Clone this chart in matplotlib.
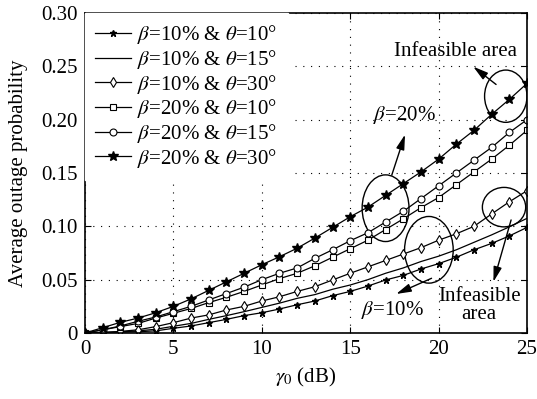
import matplotlib
matplotlib.use('Agg')
import matplotlib.pyplot as plt
from matplotlib.patches import Ellipse
import numpy as np

plt.rcParams['font.family'] = 'Liberation Serif'
plt.rcParams['mathtext.fontset'] = 'stix'

gamma0 = np.arange(0, 26)

# beta=10%
b10_t10 = [0, 0.0003, 0.0008, 0.0012, 0.002, 0.0044, 0.0066, 0.0097, 0.0128, 0.0163,
           0.019, 0.0225, 0.0265, 0.030, 0.035, 0.039, 0.044, 0.0497, 0.054, 0.060,
           0.065, 0.071, 0.078, 0.084, 0.091, 0.099]
b10_t15 = [0, 0.0005, 0.001, 0.002, 0.0035, 0.0063, 0.009, 0.0128, 0.0163, 0.020,
           0.024, 0.028, 0.0325, 0.036, 0.041, 0.045, 0.050, 0.056, 0.061, 0.067,
           0.072, 0.078, 0.085, 0.092, 0.0995, 0.1075]
b10_t30 = [0, 0.0005, 0.0015, 0.003, 0.006, 0.0097, 0.014, 0.017, 0.0216, 0.025,
           0.030, 0.034, 0.039, 0.0434, 0.0497, 0.056, 0.062, 0.068, 0.074, 0.080,
           0.087, 0.093, 0.100, 0.1116, 0.123, 0.1334]
# beta=20%
b20_t10 = [0, 0.003, 0.006, 0.009, 0.014, 0.0185, 0.023, 0.0285, 0.0335, 0.039,
           0.045, 0.051, 0.056, 0.063, 0.071, 0.079, 0.087, 0.097, 0.107, 0.1175,
           0.127, 0.139, 0.151, 0.163, 0.176, 0.190]
b20_t15 = [0, 0.003, 0.0066, 0.011, 0.015, 0.020, 0.025, 0.031, 0.037, 0.043,
           0.050, 0.056, 0.061, 0.070, 0.078, 0.0865, 0.094, 0.104, 0.114, 0.126,
           0.138, 0.150, 0.162, 0.174, 0.188, 0.200]
b20_t30 = [0, 0.005, 0.010, 0.014, 0.019, 0.025, 0.032, 0.040, 0.048, 0.056,
           0.064, 0.0715, 0.0795, 0.089, 0.099, 0.109, 0.118, 0.129, 0.140, 0.151,
           0.163, 0.177, 0.190, 0.205, 0.219, 0.234]

labels = [r'$\beta$=10% & $\theta$=10°', r'$\beta$=10% & $\theta$=15°',
          r'$\beta$=10% & $\theta$=30°', r'$\beta$=20% & $\theta$=10°',
          r'$\beta$=20% & $\theta$=15°', r'$\beta$=20% & $\theta$=30°']

fs = 15

fig = plt.figure(figsize=(5.37, 3.99), dpi=100)
ax = fig.add_axes([0.1583, 0.1654, 0.8231, 0.802])

lw = 0.9
ax.plot(gamma0, b10_t10, 'k-', marker='*', ms=5, lw=lw, label=labels[0])
ax.plot(gamma0, b10_t15, 'k-', lw=lw, label=labels[1])
ax.plot(gamma0, b10_t30, 'k-', marker='d', ms=5, mfc='white', mew=0.8, lw=lw, label=labels[2])
ax.plot(gamma0, b20_t10, 'k-', marker='s', ms=4, mfc='white', mew=0.8, lw=lw, label=labels[3])
ax.plot(gamma0, b20_t15, 'k-', marker='o', ms=5, mfc='white', mew=0.8, lw=lw, label=labels[4])
ax.plot(gamma0, b20_t30, 'k-', marker='*', ms=7, lw=lw, label=labels[5])

ax.set_xlim(0, 25)
ax.set_ylim(0, 0.30)
ax.set_xticks([0, 5, 10, 15, 20, 25])
ax.set_yticks([0, 0.05, 0.10, 0.15, 0.20, 0.25, 0.30])
ax.set_yticklabels(['0', '0.05', '0.10', '0.15', '0.20', '0.25', '0.30'])
ax.tick_params(direction='in', length=4, top=True, right=True, labelsize=fs, pad=5)
ax.grid(True, color='k', linestyle=(0, (1, 6)), linewidth=0.8)
for s in ax.spines.values():
    s.set_linewidth(1.2)

ax.set_xlabel(r'$\gamma_0$ (dB)', fontsize=fs, labelpad=5)
ax.set_ylabel('Average outage probability', fontsize=fs, labelpad=10)

leg = ax.legend(loc='upper left', fontsize=fs, frameon=True, fancybox=False,
                handlelength=1.7, handletextpad=0.3, labelspacing=0.08,
                borderaxespad=0.0, borderpad=0.5)
leg.get_frame().set_edgecolor('white')
leg.get_frame().set_alpha(1)

# ellipses
ax.add_patch(Ellipse((23.8, 0.222), 2.4, 0.049, fill=False, ec='k', lw=1))
ax.add_patch(Ellipse((17.0, 0.117), 2.65, 0.0625, fill=False, ec='k', lw=1))
ax.add_patch(Ellipse((19.45, 0.078), 2.75, 0.0625, fill=False, ec='k', lw=1))
ax.add_patch(Ellipse((23.7, 0.118), 2.45, 0.037, fill=False, ec='k', lw=1))

arr = dict(arrowstyle='-|>,head_length=0.9,head_width=0.25', color='k', lw=1,
           shrinkA=0, shrinkB=0)
ax.annotate('', xy=(21.96, 0.2497), xytext=(23.25, 0.233), arrowprops=arr)
ax.annotate('', xy=(18.1, 0.186), xytext=(17.35, 0.148), arrowprops=arr)
ax.annotate('', xy=(17.6, 0.0366), xytext=(19.6, 0.0513), arrowprops=arr)
ax.annotate('', xy=(23.1, 0.048), xytext=(24.1, 0.106), arrowprops=arr)

ax.text(20.93, 0.264, 'Infeasible area', fontsize=fs, ha='center', va='center')
ax.text(18.05, 0.204, r'$\beta$=20%', fontsize=fs, ha='center', va='center')
ax.text(17.4, 0.022, r'$\beta$=10%', fontsize=fs, ha='center', va='center')
ax.text(22.3, 0.026, 'Infeasible\narea', fontsize=fs, ha='center', va='center',
        linespacing=0.9)

fig.savefig('out.png', dpi=100)
